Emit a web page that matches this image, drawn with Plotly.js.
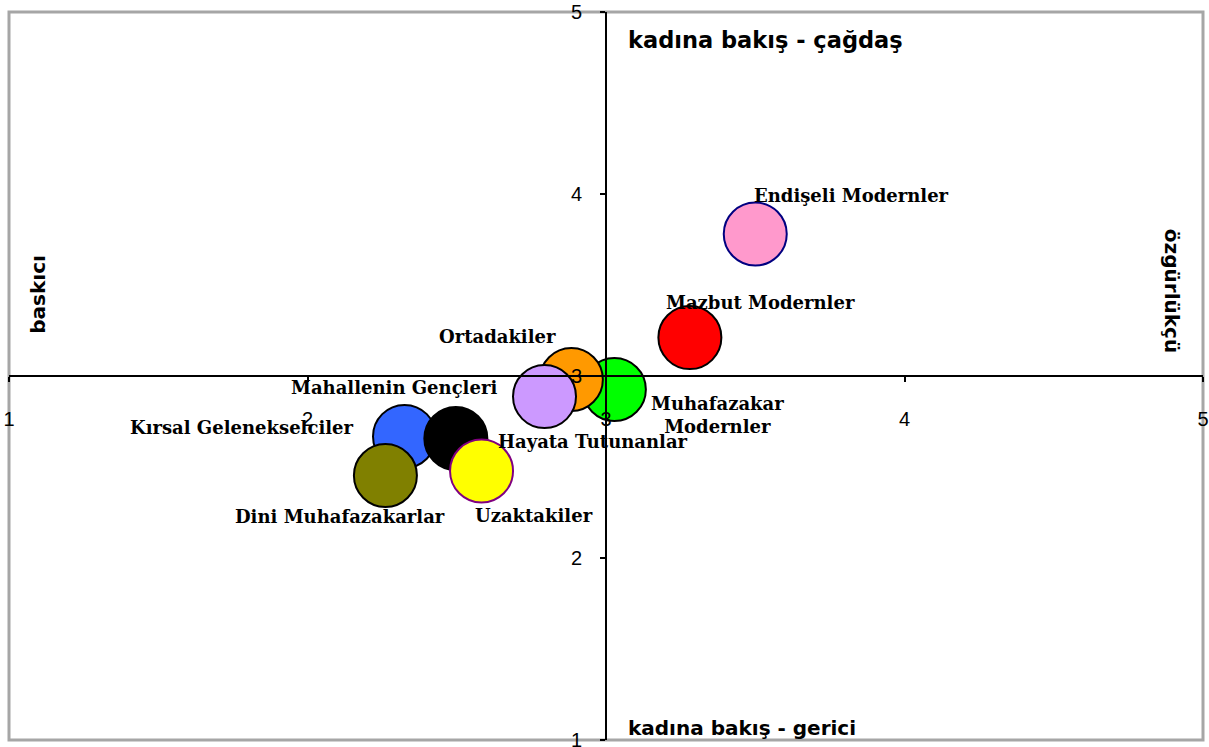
<!DOCTYPE html>
<html>
<head>
<meta charset="utf-8">
<script src="https://cdn.plot.ly/plotly-3.0.1.min.js"></script>
<style>html,body{margin:0;padding:0;background:#fff;}#chart{width:1209px;height:747px;}</style>
</head>
<body>
<div id="chart"></div>
<script>
// Data (drawing order: later points on top)
const segments = ["Kırsal Gelenekselciler", "Mahallenin Gençleri", "Dini Muhafazakarlar", "Uzaktakiler",
  "Muhafazakar<br>Modernler", "Ortadakiler", "Hayata Tutunanlar", "Mazbut Modernler", "Endişeli Modernler"];
const womenView = [2.325, 2.497, 2.261, 2.583, 3.028, 2.884, 2.794, 3.281, 3.50];   // x: baskıcı -> özgürlükçü
const modernity = [2.668, 2.657, 2.453, 2.478, 2.926, 2.981, 2.887, 3.211, 3.78];   // y: gerici -> çağdaş
const xTicks = [1, 2, 3, 4, 5];
const yTicks = [1, 2, 3, 4, 5];

// Styles
const fillColors = ["#3366FF", "#000000", "#808000", "#FFFF00", "#00FF00", "#FF9900", "#CC99FF", "#FF0000", "#FF99CC"];
const lineColors = ["#000000", "#000000", "#000000", "#800080", "#000000", "#000000", "#000000", "#000000", "#000080"];
const labelShift = [[-163, 9], [-62, 51], [-45, -41], [52, -44], [103, -26], [-74, 43], [48, -45], [71, 35], [96, 39]];

const trace = {
  type: "scatter", mode: "markers",
  x: womenView, y: modernity,
  marker: {size: 63, color: fillColors, opacity: 1, line: {color: lineColors, width: 2}},
  hoverinfo: "skip", cliponaxis: false
};

const labelFont = {family: "DejaVu Serif", size: 18, color: "#000", weight: "bold"};
const annotations = segments.map((s, i) => ({
  x: womenView[i], y: modernity[i], xref: "x", yref: "y",
  text: s, showarrow: false, font: labelFont,
  xshift: labelShift[i][0], yshift: labelShift[i][1], align: "center"
}));

const sideFont = {family: "DejaVu Sans", size: 20, color: "#000", weight: "bold"};
annotations.push(
  {xref: "paper", yref: "paper", x: 0.5165, y: 0.961, xanchor: "left", yanchor: "middle", text: "kadına bakış - çağdaş", showarrow: false, font: Object.assign({}, sideFont, {size: 22.5})},
  {xref: "paper", yref: "paper", x: 0.5165, y: 0.016, xanchor: "left", yanchor: "middle", text: "kadına bakış - gerici", showarrow: false, font: sideFont},
  {xref: "paper", yref: "paper", x: 0.0245, y: 0.612, xanchor: "center", yanchor: "middle", text: "baskıcı", textangle: -90, showarrow: false, font: sideFont},
  {xref: "paper", yref: "paper", x: 0.974, y: 0.617, xanchor: "center", yanchor: "middle", text: "özgürlükçü", textangle: 90, showarrow: false, font: sideFont}
);

const tickFont = {family: "Liberation Sans", size: 20, color: "#000"};
const layout = {
  width: 1209, height: 747,
  margin: {l: 9, r: 6, t: 12, b: 7, pad: 0},
  paper_bgcolor: "#fff", plot_bgcolor: "#fff",
  showlegend: false,
  xaxis: {
    range: [1, 5], tickvals: xTicks, ticktext: xTicks.map(String),
    anchor: "free", position: 0.5, showline: true, linecolor: "#000", linewidth: 2,
    ticks: "outside", ticklen: 5, tickwidth: 2, tickcolor: "#000", ticklabeloverflow: "allow",
    showgrid: false, zeroline: false, tickfont: tickFont, ticklabelstandoff: 20, fixedrange: true
  },
  yaxis: {
    range: [1, 5], tickvals: yTicks, ticktext: yTicks.map(String),
    anchor: "free", position: 0.5, showline: true, linecolor: "#000", linewidth: 2,
    ticks: "outside", ticklen: 5, tickwidth: 2, tickcolor: "#000", ticklabeloverflow: "allow",
    showgrid: false, zeroline: false, tickfont: tickFont, ticklabelstandoff: 14, fixedrange: true
  },
  shapes: [{type: "rect", xref: "paper", yref: "paper", x0: 0, y0: 0, x1: 1, y1: 1,
    line: {color: "#A6A6A6", width: 3}, layer: "below"}],
  annotations: annotations
};

Plotly.newPlot("chart", [trace], layout, {displayModeBar: false, staticPlot: true});
</script>
</body>
</html>
